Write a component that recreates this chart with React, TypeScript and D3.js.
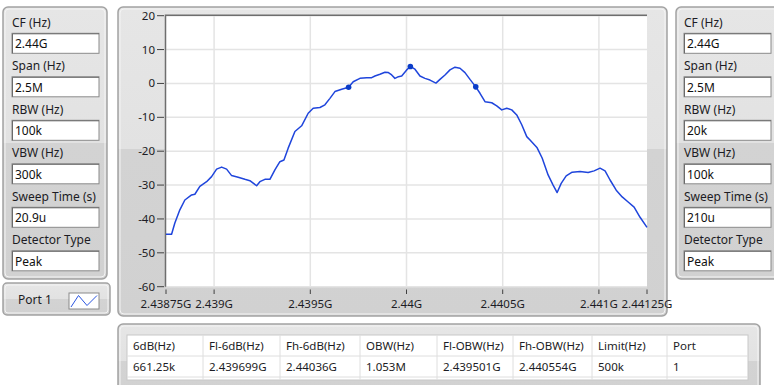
import React from "react";
import * as d3 from "d3";

// Spectrum trace: frequency offset from 2.44 GHz (kHz) and level (dB)
const CENTER_HZ = 2.44e9;
const OFFSET_KHZ = [
  -1250, -1221, -1204, -1178, -1152, -1117, -1100, -1074, -1039, -1013,
  -987, -961, -935, -909, -875, -840, -814, -779, -762, -736,
  -710, -684, -658, -637, -615, -580, -545, -511, -485, -450,
  -424, -398, -372, -337, -301, -277, -242, -207, -181, -164,
  -138, -112, -94, -77, -60, -42, -25, 1, 20, 44,
  70, 96, 122, 153, 174, 200, 226, 252, 278, 304,
  330, 360, 382, 408, 443, 469, 495, 521, 547, 573,
  599, 625, 642, 679, 705, 736, 762, 783, 804, 830,
  861, 902, 944, 975, 1006, 1032, 1058, 1090, 1121, 1152,
  1183, 1214, 1250,
];
const LEVEL_DB = [
  -44.5, -44.5, -41.2, -37.3, -34.4, -32.9, -32.7, -30.4, -29.0, -27.5,
  -25.3, -24.7, -25.3, -27.2, -27.7, -28.3, -28.7, -30.2, -29.0, -28.3,
  -28.3, -25.5, -23.1, -22.6, -19.1, -14.2, -12.5, -8.8, -7.3, -7.1,
  -6.3, -4.4, -2.4, -1.7, -1.1, 0.5, 1.5, 1.7, 1.7, 2.2,
  2.7, 3.3, 3.2, 2.5, 1.5, 2.0, 2.2, 4.0, 5.0, 4.2,
  2.2, 1.5, 1.0, 0.1, 1.2, 2.5, 4.0, 4.8, 4.5, 3.2,
  1.2, -1.0, -2.9, -5.4, -5.7, -6.6, -7.8, -7.3, -7.8, -9.3,
  -12.2, -15.7, -16.7, -19.0, -22.0, -27.0, -30.0, -32.2, -29.5, -27.3,
  -26.2, -26.0, -26.3, -25.8, -25.0, -25.8, -28.5, -31.5, -33.5, -35.0,
  -36.5, -39.5, -42.5,
];

// Axis ticks
const X_TICKS_HZ = [2.43875e9, 2.439e9, 2.4395e9, 2.44e9, 2.4405e9, 2.441e9, 2.44125e9];
const X_TICK_LABELS = ["2.43875G", "2.439G", "2.4395G", "2.44G", "2.4405G", "2.441G", "2.44125G"];
const Y_TICKS = [20, 10, 0, -10, -20, -30, -40, -50, -60];

// Measurement settings shown in the side panels
const SETTING_LABELS = ["CF (Hz)", "Span (Hz)", "RBW (Hz)", "VBW (Hz)", "Sweep Time (s)", "Detector Type"];
const LEFT_VALUES = ["2.44G", "2.5M", "100k", "300k", "20.9u", "Peak"];
const RIGHT_VALUES = ["2.44G", "2.5M", "20k", "100k", "210u", "Peak"];

// Occupied bandwidth results
const TABLE_HEADERS = ["6dB(Hz)", "Fl-6dB(Hz)", "Fh-6dB(Hz)", "OBW(Hz)", "Fl-OBW(Hz)", "Fh-OBW(Hz)", "Limit(Hz)", "Port"];
const TABLE_ROW = ["661.25k", "2.439699G", "2.44036G", "1.053M", "2.439501G", "2.440554G", "500k", "1"];
const TABLE_COL_X = [127, 203, 280, 360, 437, 513, 592, 667, 748];

// Markers: lower -6 dB edge, peak, upper -6 dB edge
const MARKER_HZ = [2.439699e9, 2.44002e9, 2.44036e9];
const MARKER_DB = [-1.1, 5.0, -1.0];

const FONT = "'Noto Sans', 'DejaVu Sans', sans-serif";
const TEXT = "#1c1c24";

function Panel({ x, y, w, h, split = 0.5, r = 5 }: { x: number; y: number; w: number; h: number; split?: number; r?: number }) {
  const id = `g${x}-${y}`;
  return (
    <g>
      <defs>
        <linearGradient id={id} x1="0" y1="0" x2="0" y2="1">
          <stop offset="0" stopColor="#e6e6e6" />
          <stop offset={split} stopColor="#e2e2e2" />
          <stop offset={split} stopColor="#d3d3d3" />
          <stop offset="1" stopColor="#d1d1d1" />
        </linearGradient>
      </defs>
      <rect x={x} y={y} width={w} height={h} rx={r} fill={`url(#${id})`} stroke="#a2a2a2" strokeWidth={1.5} />
      <rect x={x + 2} y={y + 2} width={w - 4} height={h - 4} rx={r - 1} fill="none" stroke="#f4f4f4" strokeWidth={1} />
    </g>
  );
}

function SettingsPanel({ x, w, boxX, boxW, values }: { x: number; w: number; boxX: number; boxW: number; values: string[] }) {
  return (
    <g>
      <Panel x={x} y={7} w={w} h={272} />
      {SETTING_LABELS.map((label, i) => {
        const top = 33.3 + i * 43.5;
        return (
          <g key={label}>
            <text x={boxX} y={top - 11} dy="0.35em" fontFamily={FONT} fontSize={12} fill={TEXT}>{label}</text>
            <rect x={boxX} y={top} width={boxW} height={20} fill="#ffffff" stroke="#8a8a8a" strokeWidth={1} />
            <path d={`M${boxX + 0.5},${top + 20}V${top + 0.5}H${boxX + boxW}`} fill="none" stroke="#6a6a6a" strokeWidth={1} />
            <text x={boxX + 3} y={top + 10.5} dy="0.35em" fontFamily={FONT} fontSize={12} fill="#101010">{values[i]}</text>
          </g>
        );
      })}
    </g>
  );
}

export default function App() {
  const left = 166, right = 647, top = 15.7, bottom = 286.7;
  const x = d3.scaleLinear().domain([2.43875e9, 2.44125e9]).range([left, right]);
  const y = d3.scaleLinear().domain([-60, 20]).range([bottom, top]);

  const points: [number, number][] = OFFSET_KHZ.map((k, i) => [CENTER_HZ + k * 1e3, LEVEL_DB[i]]);
  const line = d3.line<[number, number]>().x((d) => x(d[0])).y((d) => y(d[1]));

  const gridX = X_TICKS_HZ.slice(1, -1);

  return (
    <svg width={774} height={385} style={{ position: "absolute", left: 0, top: 0, background: "#ffffff" }}>
      {/* side settings panels */}
      <SettingsPanel x={3} w={104} boxX={12} boxW={87} values={LEFT_VALUES} />
      <SettingsPanel x={676} w={104} boxX={684} boxW={87} values={RIGHT_VALUES} />

      {/* plot frame */}
      <Panel x={118} y={7} w={549} h={309} split={0.46} />
      <rect x={left} y={top} width={right - left} height={bottom - top} fill="#ffffff" />

      {/* grid */}
      {Y_TICKS.map((t) => (
        <line key={`gy${t}`} x1={left} x2={right} y1={y(t)} y2={y(t)} stroke="#e4e4e4" strokeWidth={1.5} />
      ))}
      {gridX.map((t) => (
        <line key={`gx${t}`} x1={x(t)} x2={x(t)} y1={top} y2={bottom} stroke="#e4e4e4" strokeWidth={1.5} />
      ))}

      {/* plot border: darker top/left edge */}
      <path d={`M${left - 0.5},${bottom}V${top - 0.5}H${right}`} fill="none" stroke="#6e6e6e" strokeWidth={1.5} />

      {/* y axis */}
      {Y_TICKS.map((t) => (
        <g key={`yt${t}`}>
          <line x1={157} x2={164} y1={y(t)} y2={y(t)} stroke="#404040" strokeWidth={1} />
          <text x={155} y={y(t)} dy="0.35em" textAnchor="end" fontFamily={FONT} fontSize={11.5} fill={TEXT}>{t}</text>
        </g>
      ))}

      {/* x axis */}
      {X_TICKS_HZ.map((t, i) => (
        <g key={`xt${t}`}>
          <line x1={x(t)} x2={x(t)} y1={289.5} y2={294} stroke="#404040" strokeWidth={1} />
          <text x={x(t)} y={303.5} dy="0.35em" textAnchor="middle" fontFamily={FONT} fontSize={11.5} fill={TEXT}>{X_TICK_LABELS[i]}</text>
        </g>
      ))}

      {/* spectrum trace */}
      <path d={line(points) ?? ""} fill="none" stroke="#1f45dc" strokeWidth={1.5} strokeLinejoin="round" />
      {MARKER_HZ.map((f, i) => (
        <circle key={`m${i}`} cx={x(f)} cy={y(MARKER_DB[i])} r={2.8} fill="#0a3cc8" />
      ))}

      {/* legend */}
      <Panel x={3} y={283} w={107} h={32} split={0.5} r={4} />
      <text x={18} y={300} dy="0.35em" fontFamily={FONT} fontSize={12} fill={TEXT}>Port 1</text>
      <rect x={69} y={293} width={30} height={16} fill="#ffffff" stroke="#8a8a8a" strokeWidth={1} />
      <path d="M71,307L78.5,295.5L87,305.5L97,295.5" fill="none" stroke="#2a55e0" strokeWidth={1} />

      {/* results table */}
      <Panel x={118} y={324} w={642} h={75} split={0.5} />
      <rect x={TABLE_COL_X[0]} y={335} width={TABLE_COL_X[TABLE_COL_X.length - 1] - TABLE_COL_X[0]} height={45} fill="#ffffff" stroke="#c8c8c8" strokeWidth={1} />
      <line x1={TABLE_COL_X[0]} x2={TABLE_COL_X[TABLE_COL_X.length - 1]} y1={356} y2={356} stroke="#dedede" strokeWidth={1} />
      <line x1={TABLE_COL_X[0]} x2={TABLE_COL_X[TABLE_COL_X.length - 1]} y1={377} y2={377} stroke="#dedede" strokeWidth={1} />
      {TABLE_COL_X.slice(1, -1).map((cx) => (
        <line key={`c${cx}`} x1={cx} x2={cx} y1={335} y2={380} stroke="#dedede" strokeWidth={1} />
      ))}
      {TABLE_HEADERS.map((h, i) => (
        <text key={`h${i}`} x={TABLE_COL_X[i] + 6} y={345.5} dy="0.35em" fontFamily={FONT} fontSize={11.5} fill={TEXT}>{h}</text>
      ))}
      {TABLE_ROW.map((v, i) => (
        <text key={`r${i}`} x={TABLE_COL_X[i] + 6} y={367} dy="0.35em" fontFamily={FONT} fontSize={11.5} fill={TEXT}>{v}</text>
      ))}
    </svg>
  );
}
